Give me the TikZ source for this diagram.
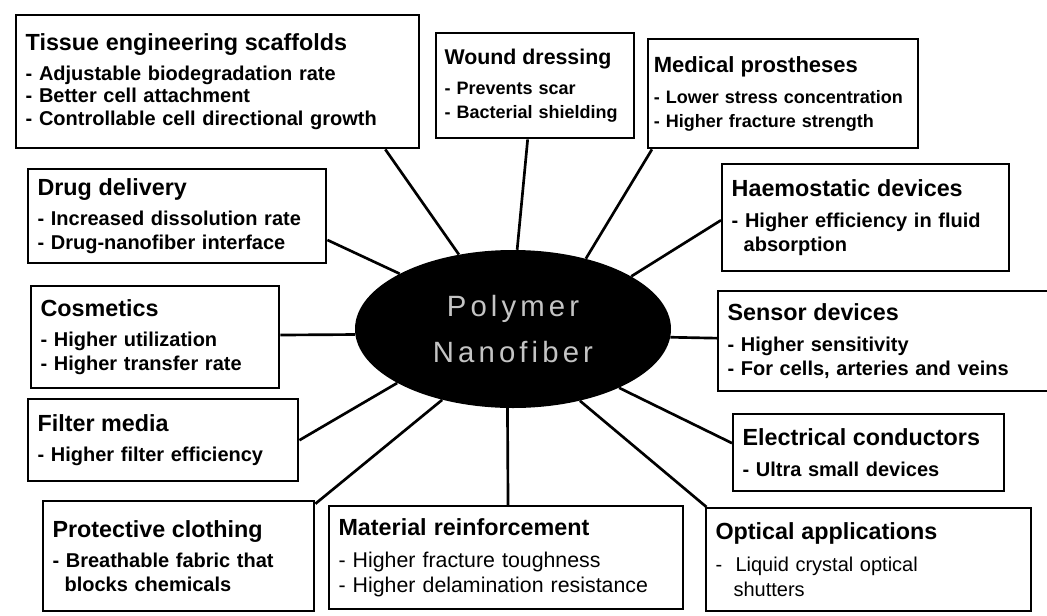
\documentclass[tikz,border=0pt]{standalone}
\usepackage{fontspec}
\setmainfont{Liberation Sans}
\newfontfamily\hubfont[LetterSpace=14]{Liberation Sans}
\usepackage{tikz}
\usetikzlibrary{shapes.geometric, positioning}
\definecolor{hubgray}{RGB}{196,196,196}

\tikzset{
  appbox/.style={draw, line width=1.8pt, rectangle, anchor=north west,
    inner xsep=7pt, inner ysep=3pt, align=left,
    font=\bfseries\fontsize{15}{18}\selectfont},
  hubnode/.style={ellipse, fill=black, minimum width=237pt, minimum height=118.5pt,
    inner sep=0pt, text=hubgray, align=center,
    font=\hubfont\fontsize{22}{34}\selectfont},
  spoke/.style={line width=2pt}
}
\newcommand{\apphead}[2][17.5]{{\bfseries\fontsize{#1}{21}\selectfont #2}\\[5pt]}

\begin{document}
\begin{tikzpicture}[x=0.75pt, y=-0.75pt]
    \useasboundingbox (0,0) rectangle (1047,615);

    % centre
    \node[hubnode] (hub) at (513,329) {Polymer\\Nanofiber};

    % application boxes, top row
    \node[appbox, minimum width=302.25pt, minimum height=99.75pt, text width=288pt,
          font=\bfseries\fontsize{15}{17}\selectfont] (tissue) at (15,14)
        {\apphead{Tissue engineering scaffolds}
         - Adjustable biodegradation rate\\
         - Better cell attachment\\
         - Controllable cell directional growth};
    \node[appbox, minimum width=148.5pt, minimum height=78.75pt, text width=136pt, inner xsep=6pt,
          font=\bfseries\fontsize{13.5}{18}\selectfont] (wound) at (435,32)
        {\apphead[16]{Wound dressing}
         - Prevents scar\\
         - Bacterial shielding};
    \node[appbox, minimum width=202.5pt, minimum height=81.75pt, text width=194pt, inner xsep=4pt,
          font=\bfseries\fontsize{13.5}{18}\selectfont] (medical) at (647,38)
        {\apphead[16.5]{Medical prostheses}
         - Lower stress concentration\\
         - Higher fracture strength};

    % left column
    \node[appbox, minimum width=223.5pt, minimum height=70.5pt, text width=209.5pt] (drug) at (27,168)
        {\apphead{Drug delivery}
         - Increased dissolution rate\\
         - Drug-nanofiber interface};
    \node[appbox, minimum width=186pt, minimum height=76.5pt, text width=172pt] (cosmetics) at (30,285)
        {\apphead{Cosmetics}
         - Higher utilization\\
         - Higher transfer rate};
    \node[appbox, minimum width=202.5pt, minimum height=61.5pt, text width=188.5pt] (filter) at (27,398)
        {\apphead{Filter media}
         - Higher filter efficiency};

    % right column
    \node[appbox, minimum width=215.25pt, minimum height=80.25pt, text width=201pt] (haemo) at (721,163)
        {\apphead{Haemostatic devices}
         - Higher efficiency in fluid\\
         \hspace*{0.6em}absorption};
    \node[appbox, minimum width=258.75pt, minimum height=75pt, text width=244.75pt] (sensor) at (717,290)
        {\apphead{Sensor devices}
         - Higher sensitivity\\
         - For cells, arteries and veins};
    \node[appbox, minimum width=203.25pt, minimum height=57.75pt, text width=189.25pt] (electrical) at (732,413)
        {\apphead{Electrical conductors}
         - Ultra small devices};

    % bottom row
    \node[appbox, minimum width=203.25pt, minimum height=82.5pt, text width=189.25pt] (protective) at (42,500)
        {\apphead{Protective clothing}
         - Breathable fabric that\\
         \hspace*{0.6em}blocks chemicals};
    \node[appbox, minimum width=265.5pt, minimum height=77.25pt, text width=251.5pt,
          font=\mdseries\fontsize{16}{19}\selectfont] (material) at (328,505)
        {\apphead{Material reinforcement}
         - Higher fracture toughness\\
         - Higher delamination resistance};
    \node[appbox, minimum width=243.75pt, minimum height=77.25pt, text width=229.75pt,
          font=\mdseries\fontsize{15}{19}\selectfont] (optical) at (705,507)
        {\apphead{Optical applications}
         -\ \ Liquid crystal optical\\
         \hspace*{0.9em}shutters};

    % spokes
    \draw[spoke] (tissue.-22) -- (hub.126);
    \draw[spoke] (wound.262) -- (hub.87);
    \draw[spoke] (medical.203) -- (hub.44);
    \draw[spoke] (drug.-9) -- (hub.154);
    \draw[spoke] (cosmetics.1) -- (hub.182);
    \draw[spoke] (filter.0) -- (hub.205);
    \draw[spoke] (haemo.181) -- (hub.24);
    \draw[spoke] (sensor.179) -- (hub.-3);
    \draw[spoke] (electrical.176) -- (hub.-29);
    \draw[spoke] (protective.21) -- (hub.225);
    \draw[spoke] (material.88) -- (hub.266);
    \draw[spoke] (optical.162) -- (hub.-47);
\end{tikzpicture}
\end{document}
